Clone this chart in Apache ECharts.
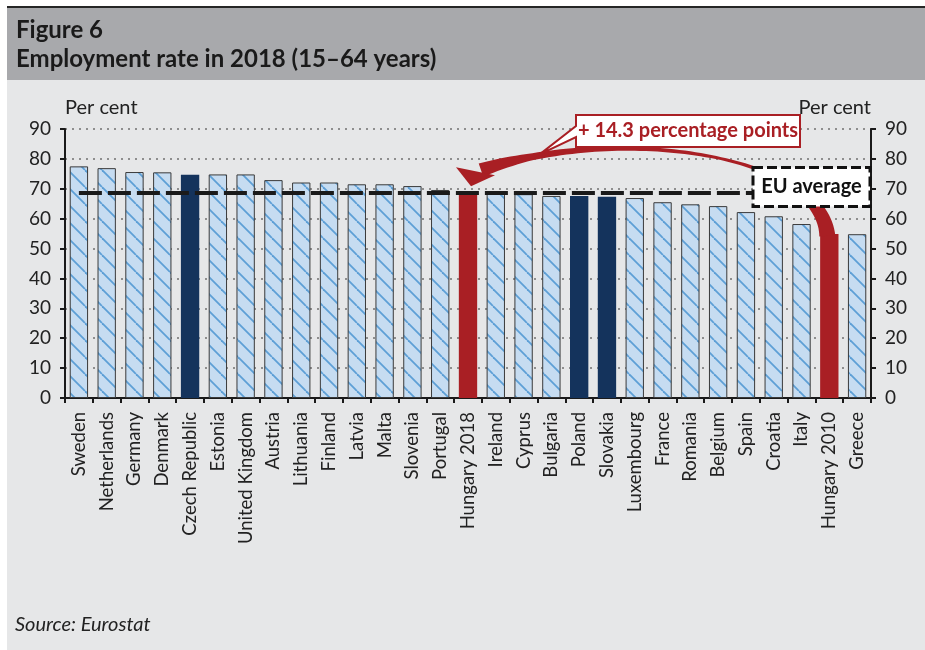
<!DOCTYPE html>
<html><head><meta charset="utf-8">
<script src="https://cdn.jsdelivr.net/npm/echarts@6/dist/echarts.min.js"></script>
<style>html,body{margin:0;padding:0;background:#fff}#c{width:925px;height:650px}</style>
</head><body><div id="c"></div>
<script>
// ---- data ----
const categories = ['Sweden','Netherlands','Germany','Denmark','Czech Republic','Estonia','United Kingdom','Austria','Lithuania','Finland','Latvia','Malta','Slovenia','Portugal','Hungary 2018','Ireland','Cyprus','Bulgaria','Poland','Slovakia','Luxembourg','France','Romania','Belgium','Spain','Croatia','Italy','Hungary 2010','Greece'];
const values = [77.5,76.9,75.6,75.5,74.7,74.8,74.8,72.9,72.1,72.1,71.5,71.5,70.9,69.6,69.2,68.4,68.2,67.6,67.6,67.3,66.9,65.5,64.8,64.2,62.2,60.8,58.2,54.9,54.8];
const navyBars = ['Czech Republic','Poland','Slovakia'];
const redBars = ['Hungary 2018','Hungary 2010'];
const euAverage = 68.6;
const yMin = 0, yMax = 90, yStep = 10;
const titleLines = ['Figure 6','Employment rate in 2018 (15–64 years)'];
const unitLabel = 'Per cent';
const changeLabel = '+ 14.3 percentage points';
const euLabel = 'EU average';
const sourceLabel = 'Source: Eurostat';

// ---- styles ----
const FONT = 'Lato, "Open Sans", sans-serif';
const RED = '#a91f24', NAVY = '#14335c', INK = '#222222';

function hatch(){
  const P = 17, c = document.createElement('canvas');
  c.width = P; c.height = P;
  const g = c.getContext('2d');
  g.fillStyle = '#c6dcf1'; g.fillRect(0,0,P,P);
  g.strokeStyle = '#5d9fd6'; g.lineWidth = 1.8;
  for (const k of [-1,0,1]) { g.beginPath(); g.moveTo(k*P,0); g.lineTo(k*P+P,P); g.stroke(); }
  return c;
}
const hatchImg = hatch();

const barData = values.map((v,i)=>{
  const n = categories[i];
  let itemStyle;
  if (navyBars.includes(n)) itemStyle = {color: NAVY, borderWidth: 0};
  else if (redBars.includes(n)) itemStyle = {color: RED, borderWidth: 0};
  else itemStyle = {color: {image: hatchImg, repeat: 'repeat'}, borderColor: '#3a3a3a', borderWidth: 1};
  return {value: v, itemStyle};
});

const yAxisBase = {
  type: 'value', min: yMin, max: yMax, interval: yStep,
  axisLine: {show: true, lineStyle: {color: '#1a1a1a', width: 2}},
  axisTick: {show: true, length: 5, lineStyle: {color: '#1a1a1a', width: 2}},
  axisLabel: {fontSize: 19, color: INK, fontFamily: FONT, margin: 14},
};

const chart = echarts.init(document.getElementById('c'), null, {renderer: 'canvas'});
chart.setOption({
  animation: false,
  backgroundColor: '#ffffff',
  grid: {left: 65, right: 54, top: 129, bottom: 252, containLabel: false},
  xAxis: {
    type: 'category', data: categories,
    axisLine: {lineStyle: {color: '#1a1a1a', width: 2}},
    axisTick: {show: true, length: 5, alignWithLabel: false, interval: 0, lineStyle: {color: '#1a1a1a', width: 2}},
    axisLabel: {rotate: 90, interval: 0, fontSize: 18.5, color: INK, fontFamily: FONT, margin: 14},
  },
  yAxis: [
    Object.assign({}, yAxisBase, {position: 'left',
      splitLine: {show: true, lineStyle: {type: [2,5], color: '#8e8e8e', width: 2}}}),
    Object.assign({}, yAxisBase, {position: 'right', splitLine: {show: false}})
  ],
  series: [{
    type: 'bar', data: barData, barCategoryGap: '34%',
    markLine: {
      silent: true, symbol: ['none','none'], label: {show: false},
      lineStyle: {color: '#1a1a1a', width: 4, type: [23,6]},
      emphasis: {disabled: true},
      data: [[{coord: [categories[0], euAverage]}, {coord: ['Hungary 2010', euAverage]}]]
    }
  }]
});

// ---- annotations, positioned from the chart's own scales ----
const px = (cat, v) => chart.convertToPixel({gridIndex: 0}, [categories.indexOf(cat), v]);
const c0 = chart.convertToPixel({xAxisIndex: 0}, 0), c1 = chart.convertToPixel({xAxisIndex: 0}, 1);
const bw = c1 - c0;
const rightX = chart.convertToPixel({xAxisIndex: 0}, categories.length - 1) + bw/2;
const leftX = c0 - bw/2;
const yTop = chart.convertToPixel({yAxisIndex: 0}, yMax);
const euY = chart.convertToPixel({yAxisIndex: 0}, euAverage);
const A = px('Hungary 2018', values[categories.indexOf('Hungary 2018')]);
const B = px('Hungary 2010', values[categories.indexOf('Hungary 2010')]);

// curved arrow shaft
const S = [B[0]-2, B[1]+2];
const E = [A[0]+13, A[1]-21];
const P1 = [S[0]-6, S[1]-84];
const P2 = [E[0]+130, E[1]-45];
function bez(t){const u=1-t;return [u*u*u*S[0]+3*u*u*t*P1[0]+3*u*t*t*P2[0]+t*t*t*E[0], u*u*u*S[1]+3*u*u*t*P1[1]+3*u*t*t*P2[1]+t*t*t*E[1]];}
function dbez(t){const u=1-t;return [3*u*u*(P1[0]-S[0])+6*u*t*(P2[0]-P1[0])+3*t*t*(E[0]-P2[0]), 3*u*u*(P1[1]-S[1])+6*u*t*(P2[1]-P1[1])+3*t*t*(E[1]-P2[1])];}
const wProf = [[0,16],[0.12,13],[0.3,4],[0.45,3],[0.7,4.5],[0.88,7],[1,14]];
function wAt(t){for(let i=1;i<wProf.length;i++){if(t<=wProf[i][0]){const a=wProf[i-1],b=wProf[i];return a[1]+(b[1]-a[1])*(t-a[0])/(b[0]-a[0]);}}return wProf[wProf.length-1][1];}
const Lp=[], Rp=[];
for(let i=0;i<=80;i++){const t=i/80, p=bez(t), d=dbez(t), m=Math.hypot(d[0],d[1])||1, nx=-d[1]/m, ny=d[0]/m, h=wAt(t)/2;
  Lp.push([p[0]+nx*h,p[1]+ny*h]); Rp.push([p[0]-nx*h,p[1]-ny*h]);}
const shaft = Lp.concat(Rp.reverse());
const head = [[A[0]-12,A[1]-24],[A[0]+27,A[1]-16],[A[0]+3,A[1]-5]];

// EU box
const ebR = rightX - 1, ebL = rightX - 118, ebT = euY - 25.5, ebB = euY + 13.5;
// callout
const cL = rightX - 295, cR = rightX - 71, cT = yTop - 14, cB = yTop + 18;
const tip = bez(0.86);
const callout = [[cL,cT],[cR,cT],[cR,cB],[cL,cB],[cL,cB-10],[tip[0],tip[1]-1],[cL,cT+11]];

function txt(x,y,text,font,fill,align,z){return {type:'text', z:z||50, style:{x,y,text,font,fill,align:align||'left',textAlign:align||'left',verticalAlign:'middle',textVerticalAlign:'middle'}};}

chart.setOption({graphic: [
  {type:'rect', z:-20, shape:{x:7,y:8,width:918,height:642}, style:{fill:'#e6e7e8'}},
  {type:'rect', z:-19, shape:{x:7,y:8,width:918,height:72}, style:{fill:'#a8a9ac'}},
  {type:'rect', z:-18, shape:{x:7,y:6,width:918,height:2}, style:{fill:'#262626'}},
  txt(16, 30, titleLines[0], 'bold 24px ' + FONT, '#1a1a1a'),
  txt(16, 59, titleLines[1], 'bold 24px ' + FONT, '#1a1a1a'),
  txt(leftX, 108, unitLabel, '20px ' + FONT, INK, 'left'),
  txt(rightX, 108, unitLabel, '20px ' + FONT, INK, 'right'),
  txt(15, 625, sourceLabel, 'italic 20px ' + FONT, INK),
  {type:'polygon', z:40, shape:{points: shaft}, style:{fill: RED}},
  {type:'polygon', z:40, shape:{points: head}, style:{fill: RED}},
  {type:'rect', z:45, shape:{x:ebL,y:ebT,width:ebR-ebL,height:ebB-ebT}, style:{fill:'#ffffff', stroke:'#111111', lineWidth:3, lineDash:[10,4]}},
  txt((ebL+ebR)/2, (ebT+ebB)/2, euLabel, 'bold 20px ' + FONT, '#111111', 'center', 46),
  {type:'polygon', z:47, shape:{points: callout}, style:{fill:'#ffffff', stroke: RED, lineWidth: 2, lineJoin:'miter'}},
  txt((cL+cR)/2, (cT+cB)/2, changeLabel, 'bold 20px ' + FONT, RED, 'center', 48),
]});
</script></body></html>
